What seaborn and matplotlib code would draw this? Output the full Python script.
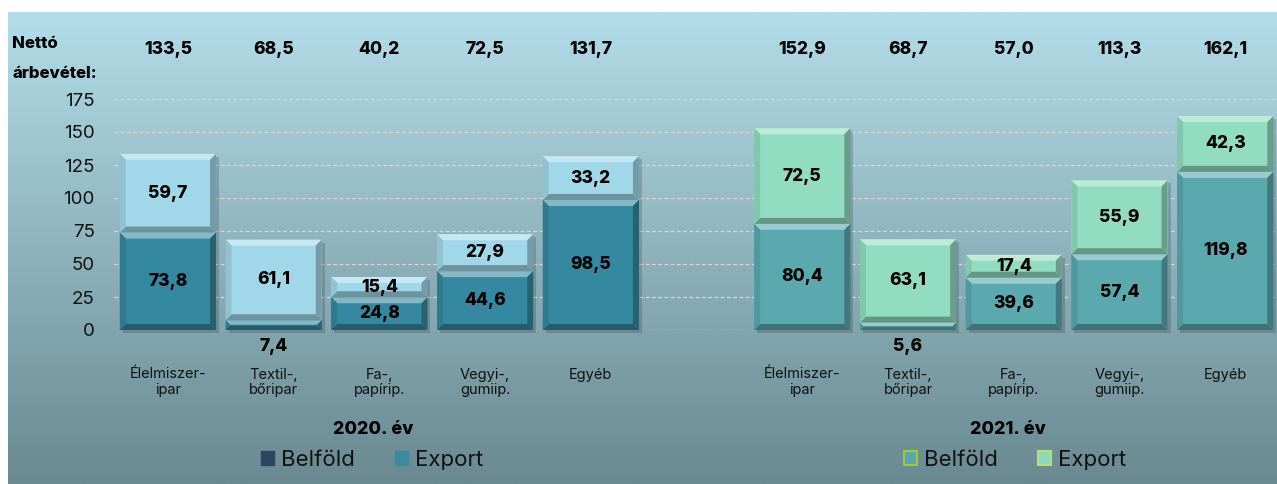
import numpy as np
import pandas as pd
import matplotlib
matplotlib.use("Agg")
import matplotlib.pyplot as plt
import matplotlib.transforms as mtransforms
from matplotlib.patches import Polygon, Rectangle, Patch
from matplotlib.colors import to_rgb
import seaborn as sns

# ---------------- data ----------------
categories = ["Élelmiszer-\nipar", "Textil-,\nbőripar", "Fa-,\npapírip.", "Vegyi-,\ngumiip.", "Egyéb"]
pos_2020 = [0, 1, 2, 3, 4]
pos_2021 = [6, 7, 8, 9, 10]
belfold_2020 = [73.8, 7.4, 24.8, 44.6, 98.5]
export_2020 = [59.7, 61.1, 15.4, 27.9, 33.2]
total_2020 = [133.5, 68.5, 40.2, 72.5, 131.7]
belfold_2021 = [80.4, 5.6, 39.6, 57.4, 119.8]
export_2021 = [72.5, 63.1, 17.4, 55.9, 42.3]
total_2021 = [152.9, 68.7, 57.0, 113.3, 162.1]
y_ticks = [0, 25, 50, 75, 100, 125, 150, 175]
year_labels = ["2020. év", "2021. év"]
series_names = ["Belföld", "Export"]

# ---------------- style ----------------
sns.set_theme(style="white")
plt.rcParams["font.family"] = ["Inter", "DejaVu Sans"]

W, H = 1277, 484
fig = plt.figure(figsize=(W / 100, H / 100), dpi=100)
fig.patch.set_facecolor("white")

# gradient background panel
bg = fig.add_axes([8 / W, 0, 1 - 8 / W, (H - 12) / H])
top_c = np.array(to_rgb("#b3dde9"))
bot_c = np.array(to_rgb("#6a8991"))
t = np.linspace(0, 1, 256)[:, None]
grad = (top_c[None, :] * (1 - t) + bot_c[None, :] * t)[:, None, :]
bg.imshow(grad, aspect="auto", extent=[0, 1, 0, 1])
bg.set_axis_off()

px_per_unit_y = (330 - 99) / 175
ax = fig.add_axes([114 / W, 1 - 330 / H, 1 - 114 / W, 175.5 * px_per_unit_y / H])
ax.patch.set_alpha(0)

C = {
    "b20": "#34889f", "e20": "#a1d8e9",
    "b21": "#5aa9af", "e21": "#92dcc1",
}

df = pd.DataFrame({
    "pos": pos_2020 + pos_2021,
    "total": total_2020 + total_2021,
    "belfold": belfold_2020 + belfold_2021,
    "year": ["2020"] * 5 + ["2021"] * 5,
})

BW = 0.91
# top (Export) segments drawn as full totals, bottom (Belföld) drawn over them
for yr, ce, cb in [("2020", C["e20"], C["b20"]), ("2021", C["e21"], C["b21"])]:
    d = df[df.year == yr]
    sns.barplot(data=d, x="pos", y="total", native_scale=True, color=ce,
                saturation=1, width=BW, linewidth=0, ax=ax, zorder=3)
    sns.barplot(data=d, x="pos", y="belfold", native_scale=True, color=cb,
                saturation=1, width=BW, linewidth=0, ax=ax, zorder=3)

ax.set_xlim(-0.51, 10.49)
ax.set_ylim(0, 175.5)


def mix(c, other, a):
    c = np.array(to_rgb(c)); o = np.array(to_rgb(other))
    return tuple(c * (1 - a) + o * a)


fig.canvas.draw()
p0 = ax.transData.transform((0, 0))
p1 = ax.transData.transform((1, 1))
ppx = p1[0] - p0[0]
ppy = p1[1] - p0[1]


def bevel(xc, y0, y1, color):
    x0, x1 = xc - BW / 2, xc + BW / 2
    hpx = (y1 - y0) * ppy
    b = min(6.0, hpx / 2.2)
    dx, dy = b / ppx, b / ppy
    # drop shadow
    ax.add_patch(Rectangle((x0 + 3 / ppx, y0 - 3 / ppy), x1 - x0, y1 - y0,
                           facecolor="black", alpha=0.16, lw=0, zorder=2.5,
                           clip_on=False))
    polys = [
        ([(x0, y1), (x1, y1), (x1 - dx, y1 - dy), (x0 + dx, y1 - dy)], mix(color, "white", 0.40)),
        ([(x0, y0), (x1, y0), (x1 - dx, y0 + dy), (x0 + dx, y0 + dy)], mix(color, "black", 0.32)),
        ([(x0, y0), (x0, y1), (x0 + dx, y1 - dy), (x0 + dx, y0 + dy)], mix(color, "black", 0.10)),
        ([(x1, y0), (x1, y1), (x1 - dx, y1 - dy), (x1 - dx, y0 + dy)], mix(color, "black", 0.28)),
    ]
    for pts, col in polys:
        ax.add_patch(Polygon(pts, closed=True, facecolor=col, lw=0, zorder=4,
                             clip_on=False))


def fmt(v):
    return f"{v:.1f}".replace(".", ",")


VAL_FS = 12.5
WT = 800
for pos, bel, exp, tot, cb, ce in [
    (pos_2020, belfold_2020, export_2020, total_2020, C["b20"], C["e20"]),
    (pos_2021, belfold_2021, export_2021, total_2021, C["b21"], C["e21"]),
]:
    for x, b, e, tt in zip(pos, bel, exp, tot):
        bevel(x, 0, b, cb)
        bevel(x, b, tt, ce)
        if b < 10:
            ax.annotate(fmt(b), (x, 0), xytext=(0, -12), textcoords="offset points",
                        ha="center", va="center", fontsize=VAL_FS, fontweight=WT,
                        color="black", zorder=6, annotation_clip=False)
        else:
            ax.text(x, b / 2, fmt(b), ha="center", va="center", fontsize=VAL_FS,
                    fontweight=WT, color="black", zorder=6)
        ax.text(x, b + e / 2, fmt(e), ha="center", va="center", fontsize=VAL_FS,
                fontweight=WT, color="black", zorder=6)

# totals row
blend = mtransforms.blended_transform_factory(ax.transData, fig.transFigure)
for x, tt in zip(pos_2020 + pos_2021, total_2020 + total_2021):
    ax.text(x, 1 - 50 / H, fmt(tt), transform=blend, ha="center", va="center",
            fontsize=12.5, fontweight=WT, color="black")
fig.text(12 / W, 1 - 44 / H, "Nettó", ha="left", va="center", fontsize=12,
         fontweight=WT, color="black")
fig.text(12 / W, 1 - 73 / H, "árbevétel:", ha="left", va="center", fontsize=12,
         fontweight=WT, color="black")

# axes styling
ax.set_yticks(y_ticks)
ax.set_yticklabels([str(v) for v in y_ticks], fontsize=13.5, color="#111111")
ax.set_xticks(pos_2020 + pos_2021)
ax.set_xticklabels(categories + categories, fontsize=10.5, color="#111111",
                   linespacing=1.15)
ax.tick_params(axis="y", length=0, pad=14)
ax.tick_params(axis="x", length=0, pad=27)
ax.set_xlabel(""); ax.set_ylabel("")
for s in ax.spines.values():
    s.set_visible(False)
ax.grid(axis="y", color="#e4d2d2", linestyle=(0, (3, 2)), linewidth=0.9, zorder=1)
ax.grid(axis="x", visible=False)
ax.set_axisbelow(True)

# year labels
for x_center, lab in zip([2, 8], year_labels):
    ax.text(x_center - 0.06, 1 - 430 / H, lab, transform=blend, ha="center",
            va="center", fontsize=13, fontweight=WT, color="black")

# legends
h20 = [Patch(facecolor="#2d4563", edgecolor="#2d4563"),
       Patch(facecolor="#3a8aa3", edgecolor="#3a8aa3")]
h21 = [Patch(facecolor="#5aa5b0", edgecolor="#9acd32", linewidth=1.5),
       Patch(facecolor="#8fd8c0", edgecolor="#b8e070", linewidth=1.5)]
for hands, xc in [(h20, 372), (h21, 1015)]:
    leg = fig.legend(hands, series_names, loc="center",
                     bbox_to_anchor=(xc / W, 1 - 460 / H), ncol=2, frameon=False,
                     fontsize=16, handlelength=0.6, handleheight=0.6,
                     handletextpad=0.3, columnspacing=1.8)
    for txt in leg.get_texts():
        txt.set_color("#111111")

fig.savefig("out.png", dpi=100)
